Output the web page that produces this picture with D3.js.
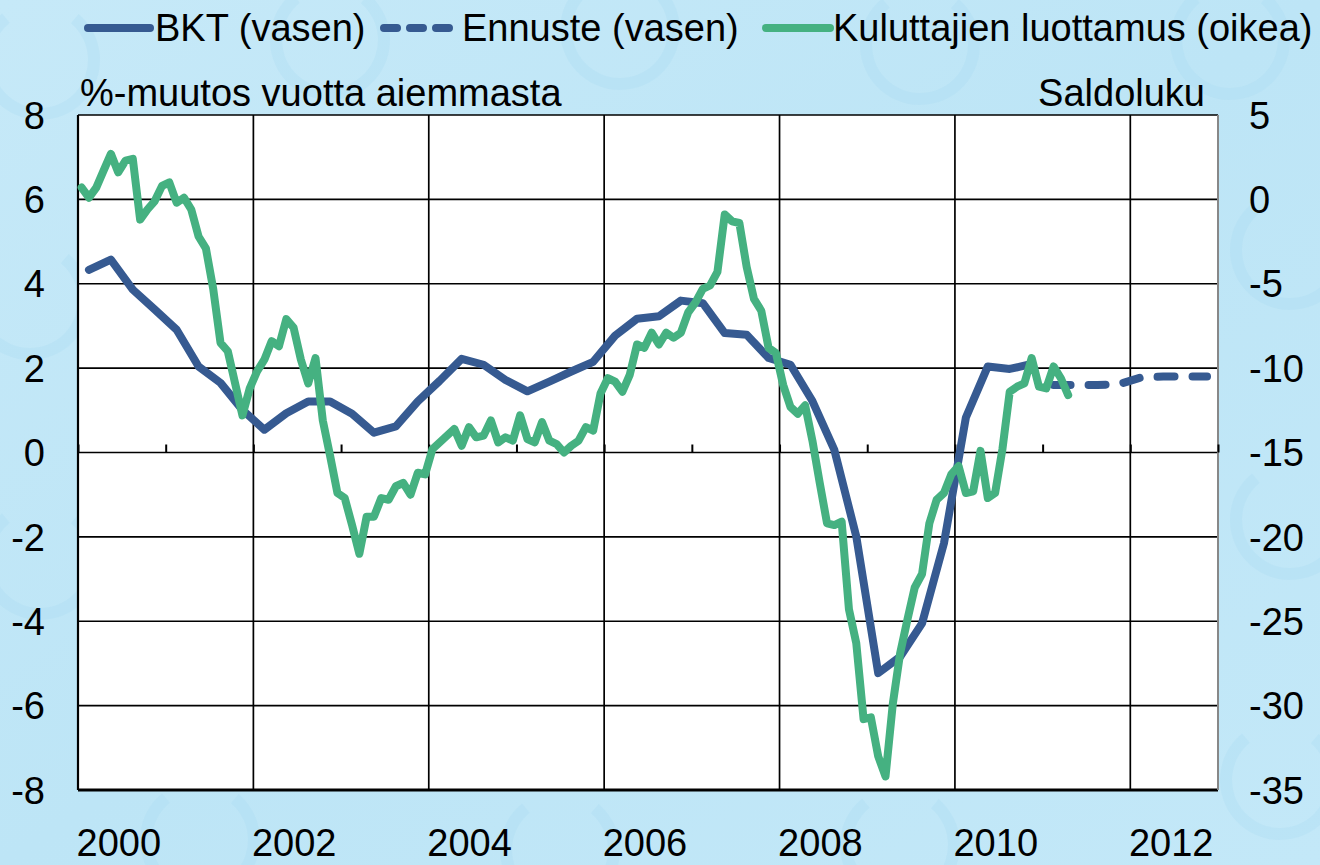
<!DOCTYPE html>
<html lang="fi">
  <head>
    <meta charset="UTF-8" />
    <script src="https://cdnjs.cloudflare.com/ajax/libs/d3/7.8.5/d3.min.js"></script>
    <style>
      body {
        margin: 0;
        padding: 0;
        background: #c2e7f7;
      }
      svg text {
        font-family: "Liberation Sans", Arial, sans-serif;
        fill: #000;
      }
    </style>
    <title>BKT ja kuluttajien luottamus</title>
  </head>
  <body>
    <div class="canvas"></div>
    <script>
      // BKT, %-muutos vuotta aiemmasta, neljännesvuosittain 2000Q1-2010Q4
      const bktStart = 2000;
      const bkt = [
        4.33, 4.57, 3.86, 3.39,
        2.91, 2.04, 1.65, 1.01,
        0.54, 0.93, 1.21, 1.21,
        0.92, 0.47, 0.62, 1.21,
        1.7, 2.22, 2.08, 1.72,
        1.45, 1.68, 1.92, 2.15,
        2.77, 3.17, 3.23, 3.6,
        3.54, 2.83, 2.79, 2.24,
        2.08, 1.22, 0.06, -1.99,
        -5.23, -4.84, -4.05, -2.15,
        0.83, 2.04, 1.98, 2.1,
      ];
      // Ennuste 2011Q1-2012Q4
      const ennusteStart = 2011;
      const ennuste = [1.6, 1.6, 1.6, 1.62, 1.78, 1.8, 1.8, 1.8];

      // Kuluttajien luottamus, saldoluku, kuukausittain 2000/01-2011/04
      const luottamusStart = 2000;
      const luottamus = [
        0.7, 0.1, 0.7, 1.7, 2.7, 1.6, 2.3, 2.4, -1.2, -0.6, -0.1, 0.8,
        1.0, -0.2, 0.1, -0.6, -2.2, -2.9, -5.3, -8.5, -9.0, -10.9, -12.8, -11.2,
        -10.2, -9.5, -8.4, -8.7, -7.1, -7.6, -9.5, -10.9, -9.4, -13.1, -15.2, -17.4,
        -17.7, -19.3, -21.0, -18.8, -18.8, -17.7, -17.8, -17.0, -16.8, -17.5, -16.2, -16.3,
        -14.8, -14.4, -14.0, -13.6, -14.6, -13.5, -14.1, -14.0, -13.1, -14.4, -14.1, -14.3,
        -12.8, -14.2, -14.4, -13.2, -14.3, -14.5, -15.0, -14.6, -14.3, -13.5, -13.7, -11.5,
        -10.6, -10.8, -11.4, -10.4, -8.6, -8.8, -7.9, -8.6, -7.9, -8.2, -7.9, -6.7,
        -6.1, -5.3, -5.1, -4.3, -0.9, -1.3, -1.4, -4.0, -5.9, -6.6, -8.8, -9.1,
        -11.0, -12.3, -12.7, -12.2, -14.3, -16.8, -19.2, -19.3, -19.1, -24.3, -26.3, -30.8,
        -30.7, -33.0, -34.2, -29.9, -26.9, -24.9, -23.0, -22.2, -19.2, -17.8, -17.4, -16.3,
        -15.8, -17.4, -17.3, -14.9, -17.7, -17.4, -14.8, -11.4, -11.1, -10.9, -9.4, -11.1,
        -11.2, -9.9, -10.6, -11.6,
      ];

      const leftTicks = [8, 6, 4, 2, 0, -2, -4, -6, -8];
      const rightTicks = [5, 0, -5, -10, -15, -20, -25, -30, -35];
      const yearLabels = [2000, 2002, 2004, 2006, 2008, 2010, 2012];

      const legendItems = [
        { label: "BKT (vasen)", key: "bkt" },
        { label: "Ennuste (vasen)", key: "ennuste" },
        { label: "Kuluttajien luottamus (oikea)", key: "luottamus" },
      ];

      const colors = { bkt: "#365a91", ennuste: "#365a91", luottamus: "#45b181" };

      const W = 1320;
      const H = 865;
      const margin = { top: 115, right: 102, bottom: 75, left: 78 };
      const fontSize = 38;
      const lineWidth = 8;

      const svg = d3
        .select(".canvas")
        .append("svg")
        .attr("width", W)
        .attr("height", H);

      // background with faint euro-like rings
      const defs = svg.append("defs");
      const grad = defs
        .append("linearGradient")
        .attr("id", "bg")
        .attr("x1", "0")
        .attr("y1", "0")
        .attr("x2", "1")
        .attr("y2", "1");
      grad.append("stop").attr("offset", "0").attr("stop-color", "#c6e9f8");
      grad.append("stop").attr("offset", "0.5").attr("stop-color", "#bde5f6");
      grad.append("stop").attr("offset", "1").attr("stop-color", "#c3e8f8");
      svg.append("rect").attr("width", W).attr("height", H).attr("fill", "url(#bg)");

      const ringSpots = [
        [40, 60], [330, 40], [620, 30], [920, 45], [1230, 40],
        [30, 300], [40, 560], [1290, 250], [1290, 520], [1280, 780],
        [200, 840], [560, 850], [900, 845],
      ];
      svg
        .append("g")
        .selectAll("path")
        .data(ringSpots)
        .join("path")
        .attr("transform", (d) => `translate(${d[0]},${d[1]})`)
        .attr("d", d3.arc().innerRadius(48).outerRadius(60).startAngle(0.7).endAngle(5.6))
        .attr("fill", "#aadcf2")
        .attr("opacity", 0.3);

      const x = d3
        .scaleLinear()
        .domain([2000, 2013])
        .range([margin.left, W - margin.right]);
      const yL = d3
        .scaleLinear()
        .domain([-8, 8])
        .range([H - margin.bottom, margin.top]);
      const yR = d3
        .scaleLinear()
        .domain([-35, 5])
        .range([H - margin.bottom, margin.top]);

      // plot area
      svg
        .append("rect")
        .attr("x", x(2000))
        .attr("y", yL(8))
        .attr("width", x(2013) - x(2000))
        .attr("height", yL(-8) - yL(8))
        .attr("fill", "#fff");

      // horizontal grid
      svg
        .append("g")
        .attr("class", "grid")
        .selectAll("line")
        .data(leftTicks)
        .join("line")
        .attr("x1", x(2000))
        .attr("x2", x(2013))
        .attr("y1", (d) => yL(d))
        .attr("y2", (d) => yL(d))
        .attr("stroke", "#000")
        .attr("stroke-width", (d) => (d === -8 ? 3 : 1.7));

      // vertical grid every second year
      svg
        .append("g")
        .attr("class", "vgrid")
        .selectAll("line")
        .data(d3.range(2000, 2013, 2))
        .join("line")
        .attr("x1", (d) => x(d))
        .attr("x2", (d) => x(d))
        .attr("y1", yL(8))
        .attr("y2", yL(-8))
        .attr("stroke", "#000")
        .attr("stroke-width", (d) => (d === 2000 ? 2.2 : 1.7));

      // right border
      svg
        .append("line")
        .attr("x1", x(2013))
        .attr("x2", x(2013))
        .attr("y1", yL(8))
        .attr("y2", yL(-8))
        .attr("stroke", "#888")
        .attr("stroke-width", 2);

      // year ticks on the zero line
      svg
        .append("g")
        .attr("transform", `translate(0,${yL(0)})`)
        .call(
          d3
            .axisTop(x)
            .tickValues(d3.range(2000, 2014))
            .tickSize(8)
            .tickFormat("")
        )
        .call((g) => g.select(".domain").remove())
        .call((g) => g.selectAll(".tick line").attr("stroke", "#000").attr("stroke-width", 2));

      // left axis labels
      svg
        .append("g")
        .selectAll("text")
        .data(leftTicks)
        .join("text")
        .attr("x", 45)
        .attr("y", (d) => yL(d))
        .attr("dy", "0.36em")
        .attr("text-anchor", "end")
        .style("font-size", fontSize + "px")
        .text((d) => d);

      // right axis labels
      svg
        .append("g")
        .selectAll("text")
        .data(rightTicks)
        .join("text")
        .attr("x", 1249)
        .attr("y", (d) => yR(d))
        .attr("dy", "0.36em")
        .attr("text-anchor", "start")
        .style("font-size", fontSize + "px")
        .text((d) => d);

      // year labels
      svg
        .append("g")
        .selectAll("text")
        .data(yearLabels)
        .join("text")
        .attr("x", (d) => x(d + 0.5) - 3)
        .attr("y", 856)
        .attr("text-anchor", "middle")
        .style("font-size", fontSize + "px")
        .text((d) => d);

      // axis titles
      svg
        .append("text")
        .attr("x", 80)
        .attr("y", 106)
        .style("font-size", fontSize + "px")
        .text("%-muutos vuotta aiemmasta");
      svg
        .append("text")
        .attr("x", 1205)
        .attr("y", 106)
        .attr("text-anchor", "end")
        .style("font-size", fontSize + "px")
        .text("Saldoluku");

      // series
      const quarterT = (start) => (d, i) => start + (i + 0.5) / 4;
      const monthT = (start) => (d, i) => start + (i + 0.5) / 12;

      const lineL = (tf) =>
        d3
          .line()
          .x((d, i) => x(tf(d, i)))
          .y((d) => yL(d));
      const lineR = (tf) =>
        d3
          .line()
          .x((d, i) => x(tf(d, i)))
          .y((d) => yR(d));

      const series = svg.append("g").attr("fill", "none").attr("stroke-linejoin", "round");

      series
        .append("path")
        .datum(bkt)
        .attr("d", lineL(quarterT(bktStart)))
        .attr("stroke", colors.bkt)
        .attr("stroke-width", lineWidth)
        .attr("stroke-linecap", "round");

      series
        .append("path")
        .datum(ennuste)
        .attr("d", lineL(quarterT(ennusteStart)))
        .attr("stroke", colors.ennuste)
        .attr("stroke-width", lineWidth)
        .attr("stroke-linecap", "round")
        .attr("stroke-dasharray", "17,18");

      series
        .append("path")
        .datum(luottamus)
        .attr("d", lineR(monthT(luottamusStart)))
        .attr("stroke", colors.luottamus)
        .attr("stroke-width", lineWidth)
        .attr("stroke-linecap", "round");

      // legend
      const legendPos = [
        { x1: 88, x2: 150, tx: 155 },
        { x1: 384, x2: 455, tx: 462 },
        { x1: 766, x2: 830, tx: 833 },
      ];
      const legend = svg
        .append("g")
        .attr("class", "legend")
        .selectAll("g")
        .data(legendItems)
        .join("g");

      legend
        .append("line")
        .attr("x1", (d, i) => legendPos[i].x1)
        .attr("x2", (d, i) => legendPos[i].x2)
        .attr("y1", 28)
        .attr("y2", 28)
        .attr("stroke", (d) => colors[d.key])
        .attr("stroke-width", lineWidth)
        .attr("stroke-linecap", "round")
        .attr("stroke-dasharray", (d) => (d.key === "ennuste" ? "13,13" : null));

      legend
        .append("text")
        .attr("x", (d, i) => legendPos[i].tx)
        .attr("y", 41)
        .style("font-size", fontSize + "px")
        .text((d) => d.label);
    </script>
  </body>
</html>
